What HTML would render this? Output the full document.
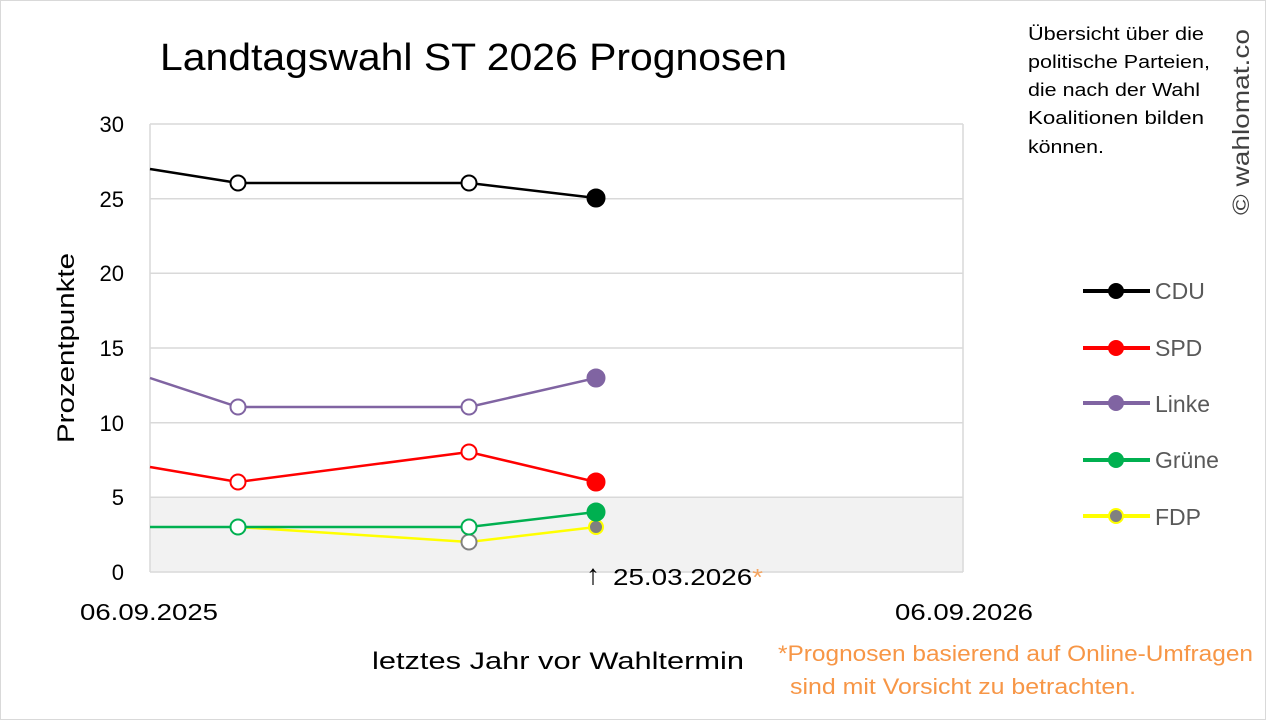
<!DOCTYPE html><html><head><style>body{margin:0;background:#fff}svg{display:block}text{font-family:"Liberation Sans",sans-serif}</style></head><body>
<svg width="1266" height="720" viewBox="0 0 1266 720">
<rect x="0.5" y="0.5" width="1265" height="719" fill="#fff" stroke="#d9d9d9"/>
<rect x="150" y="497" width="813" height="75" fill="#f2f2f2"/>
<g stroke="#d9d9d9" stroke-width="1.5">
<line x1="150" y1="124" x2="963" y2="124"/><line x1="150" y1="198.7" x2="963" y2="198.7"/><line x1="150" y1="273.3" x2="963" y2="273.3"/><line x1="150" y1="348" x2="963" y2="348"/><line x1="150" y1="422.7" x2="963" y2="422.7"/><line x1="150" y1="497.3" x2="963" y2="497.3"/><line x1="150" y1="572" x2="963" y2="572"/><line x1="150" y1="124" x2="150" y2="572"/><line x1="963" y1="124" x2="963" y2="572"/></g>
<text x="160" y="70" font-size="38" textLength="627" lengthAdjust="spacingAndGlyphs">Landtagswahl ST 2026 Prognosen</text>
<g font-size="22" text-anchor="end"><text x="124" y="132">30</text><text x="124" y="207">25</text><text x="124" y="281">20</text><text x="124" y="356">15</text><text x="124" y="431">10</text><text x="124" y="505">5</text><text x="124" y="580">0</text></g>
<text transform="translate(74,348) rotate(-90)" font-size="24" text-anchor="middle" textLength="190" lengthAdjust="spacingAndGlyphs">Prozentpunkte</text>
<text x="80" y="620" font-size="23" textLength="138" lengthAdjust="spacingAndGlyphs">06.09.2025</text>
<text x="895" y="620" font-size="23" textLength="138" lengthAdjust="spacingAndGlyphs">06.09.2026</text>
<text x="372" y="669" font-size="24" textLength="372" lengthAdjust="spacingAndGlyphs">letztes Jahr vor Wahltermin</text>
<text x="586" y="584" font-size="28">↑</text><text x="613" y="585" font-size="23" textLength="150" lengthAdjust="spacingAndGlyphs">25.03.2026<tspan fill="#f4a460">*</tspan></text>
<g font-size="22" fill="#f79646"><text x="778" y="661" textLength="475" lengthAdjust="spacingAndGlyphs">*Prognosen basierend auf Online-Umfragen</text><text x="790" y="694" textLength="346" lengthAdjust="spacingAndGlyphs">sind mit Vorsicht zu betrachten.</text></g>
<g font-size="18"><text x="1028" y="40" textLength="176" lengthAdjust="spacingAndGlyphs">Übersicht über die</text><text x="1028" y="68" textLength="182" lengthAdjust="spacingAndGlyphs">politische Parteien,</text><text x="1028" y="96" textLength="172" lengthAdjust="spacingAndGlyphs">die nach der Wahl</text><text x="1028" y="124" textLength="176" lengthAdjust="spacingAndGlyphs">Koalitionen bilden</text><text x="1028" y="153" textLength="76" lengthAdjust="spacingAndGlyphs">können.</text></g>
<text transform="translate(1249,122) rotate(-90)" font-size="23" text-anchor="middle" fill="#404040" textLength="186" lengthAdjust="spacingAndGlyphs">© wahlomat.co</text>
<g fill="none" stroke-width="2.5">
<polyline points="150,169 238,183 469,183 596,198" stroke="#000"/>
<polyline points="150,378 238,407 469,407 596,378" stroke="#8064a2"/>
<polyline points="150,467 238,482 469,452 596,482" stroke="#f00"/>
<polyline points="238,527 469,542 596,527" stroke="#ff0"/>
<polyline points="150,527 238,527 469,527 596,512" stroke="#00b050"/>
</g>
<g stroke-width="2" fill="#fff">
<circle cx="238" cy="183" r="7.5" stroke="#000"/><circle cx="469" cy="183" r="7.5" stroke="#000"/><circle cx="596" cy="198" r="8.5" fill="#000" stroke="#000"/>
<circle cx="238" cy="407" r="7.5" stroke="#8064a2"/><circle cx="469" cy="407" r="7.5" stroke="#8064a2"/><circle cx="596" cy="378" r="8.5" fill="#8064a2" stroke="#8064a2"/>
<circle cx="238" cy="482" r="7.5" stroke="#f00"/><circle cx="469" cy="452" r="7.5" stroke="#f00"/><circle cx="596" cy="482" r="8.5" fill="#f00" stroke="#f00"/>
<circle cx="469" cy="542" r="7.5" stroke="#808080"/><circle cx="596" cy="527" r="7" fill="#808080" stroke="#ff0"/>
<circle cx="238" cy="527" r="7.5" stroke="#00b050"/><circle cx="469" cy="527" r="7.5" stroke="#00b050"/><circle cx="596" cy="512" r="8.5" fill="#00b050" stroke="#00b050"/>
</g>
<g stroke-width="4">
<line x1="1083" y1="291" x2="1150" y2="291" stroke="#000"/><circle cx="1116" cy="291" r="8" fill="#000"/>
<line x1="1083" y1="348" x2="1150" y2="348" stroke="#f00"/><circle cx="1116" cy="348" r="8" fill="#f00"/>
<line x1="1083" y1="403" x2="1150" y2="403" stroke="#8064a2"/><circle cx="1116" cy="403" r="8" fill="#8064a2"/>
<line x1="1083" y1="460" x2="1150" y2="460" stroke="#00b050"/><circle cx="1116" cy="460" r="8" fill="#00b050"/>
<line x1="1083" y1="516" x2="1150" y2="516" stroke="#ff0"/><circle cx="1116" cy="516" r="7" fill="#808080" stroke="#ff0" stroke-width="2"/>
</g>
<g font-size="23" fill="#595959"><text x="1155" y="299">CDU</text><text x="1155" y="356">SPD</text><text x="1155" y="412">Linke</text><text x="1155" y="468">Grüne</text><text x="1155" y="525">FDP</text></g>
</svg></body></html>
